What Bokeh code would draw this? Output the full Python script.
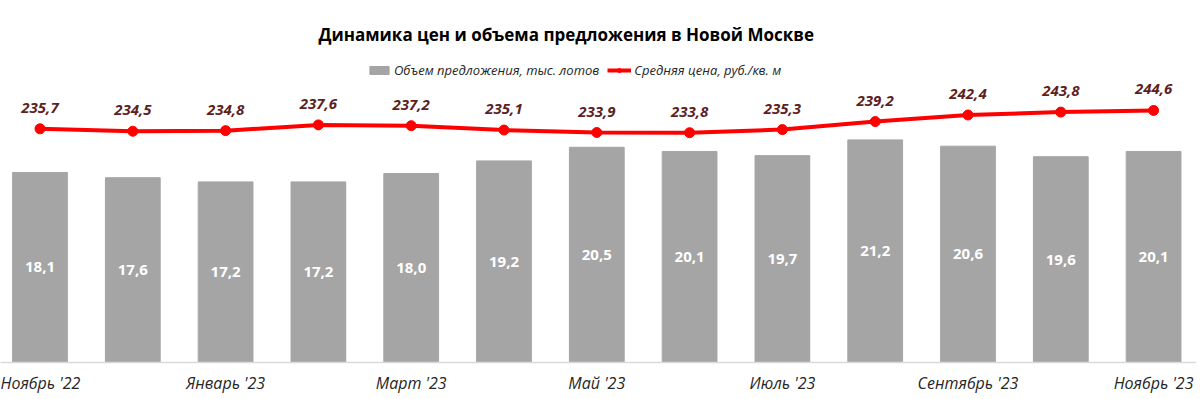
from bokeh.plotting import figure
from bokeh.models import (Range1d, FixedTicker, ColumnDataSource,
                          Legend, LegendItem, Title)
from bokeh.core.properties import value
from bokeh.embed import file_html
from bokeh.resources import INLINE

categories = ["Ноябрь '22", "Декабрь '22", "Январь '23", "Февраль '23", "Март '23",
              "Апрель '23", "Май '23", "Июнь '23", "Июль '23", "Август '23",
              "Сентябрь '23", "Октябрь '23", "Ноябрь '23"]
supply = [18.1, 17.6, 17.2, 17.2, 18.0, 19.2, 20.5, 20.1, 19.7, 21.2, 20.6, 19.6, 20.1]
price = [235.7, 234.5, 234.8, 237.6, 237.2, 235.1, 233.9, 233.8, 235.3, 239.2, 242.4, 243.8, 244.6]

title_text = "Динамика цен и объема предложения в Новой Москве"
bar_name = "Объем предложения, тыс. лотов"
line_name = "Средняя цена, руб./кв. м"

def fmt(v):
    return f"{v:.1f}".replace(".", ",")

x = list(range(len(categories)))
src = ColumnDataSource(dict(
    x=x, supply=supply, price=price,
    supply_mid=[v / 2 for v in supply],
    supply_lbl=[fmt(v) for v in supply],
    price_lbl=[fmt(v) for v in price],
))

W, H = 1196, 396
top_border, bottom_border = 50, 34
frame_h = H - top_border - bottom_border
bar_px_per_unit = 10.5
line_px_per_unit = 2.06
line_bottom = 122.25
px_per_cat = 92.8
x_start = -39.5 / px_per_cat

p = figure(width=W, height=H, output_backend="svg", toolbar_location=None,
           x_range=Range1d(x_start, x_start + W / px_per_cat),
           y_range=Range1d(0, frame_h / bar_px_per_unit),
           min_border_left=0, min_border_right=0, min_border_top=top_border,
           min_border_bottom=bottom_border)
p.extra_y_ranges = {"price": Range1d(line_bottom, line_bottom + frame_h / line_px_per_unit)}

p.title = Title(text=title_text, align="left", text_font="Open Sans",
                text_font_size="17px", text_font_style="bold", text_color="#000000",
                offset=318, standoff=10)

p.outline_line_color = None
p.background_fill_color = "white"
p.border_fill_color = "white"
p.grid.visible = False
p.yaxis.visible = False

xa = p.xaxis[0]
xa.ticker = FixedTicker(ticks=x[::2])
xa.major_label_overrides = {i: categories[i] for i in x}
xa.major_tick_line_color = None
xa.minor_tick_line_color = None
xa.axis_line_color = "#D9D9D9"
xa.axis_line_width = 1.5
xa.major_label_text_font = "Open Sans"
xa.major_label_text_font_style = "italic"
xa.major_label_text_font_size = "16px"
xa.major_label_text_color = "#262626"
xa.major_label_standoff = 3

bars = p.vbar(x="x", top="supply", width=0.59, source=src, color="#A5A5A5",
              line_color="#A5A5A5")
p.text(x="x", y="supply_mid", text="supply_lbl", source=src,
       text_align="center", text_baseline="middle", text_color="white",
       text_font=value("Open Sans"), text_font_size="15px", text_font_style="bold")

ln = p.line(x="x", y="price", source=src, y_range_name="price",
            line_color="#FF0000", line_width=4)
mk = p.scatter(x="x", y="price", source=src, y_range_name="price", size=10,
               marker="circle", fill_color="#FF0000", line_color="#FF0000")
p.text(x="x", y="price", text="price_lbl", source=src, y_range_name="price",
       text_align="center", text_baseline="middle", y_offset=-21,
       text_color="#5E1F1F", text_font=value("Open Sans"), text_font_size="15px",
       text_font_style="bold italic")

legend = Legend(items=[LegendItem(label=bar_name, renderers=[bars]),
                       LegendItem(label=line_name, renderers=[ln, mk])],
                orientation="horizontal", location=(367, 283),
                label_text_font="Open Sans", label_text_font_style="italic",
                label_text_font_size="13px", label_text_color="#262626",
                background_fill_alpha=0, border_line_color=None,
                glyph_width=24, glyph_height=10, spacing=8, label_standoff=3,
                padding=0, margin=0)
p.add_layout(legend)

open("out.html", "w").write(file_html(p, INLINE))
